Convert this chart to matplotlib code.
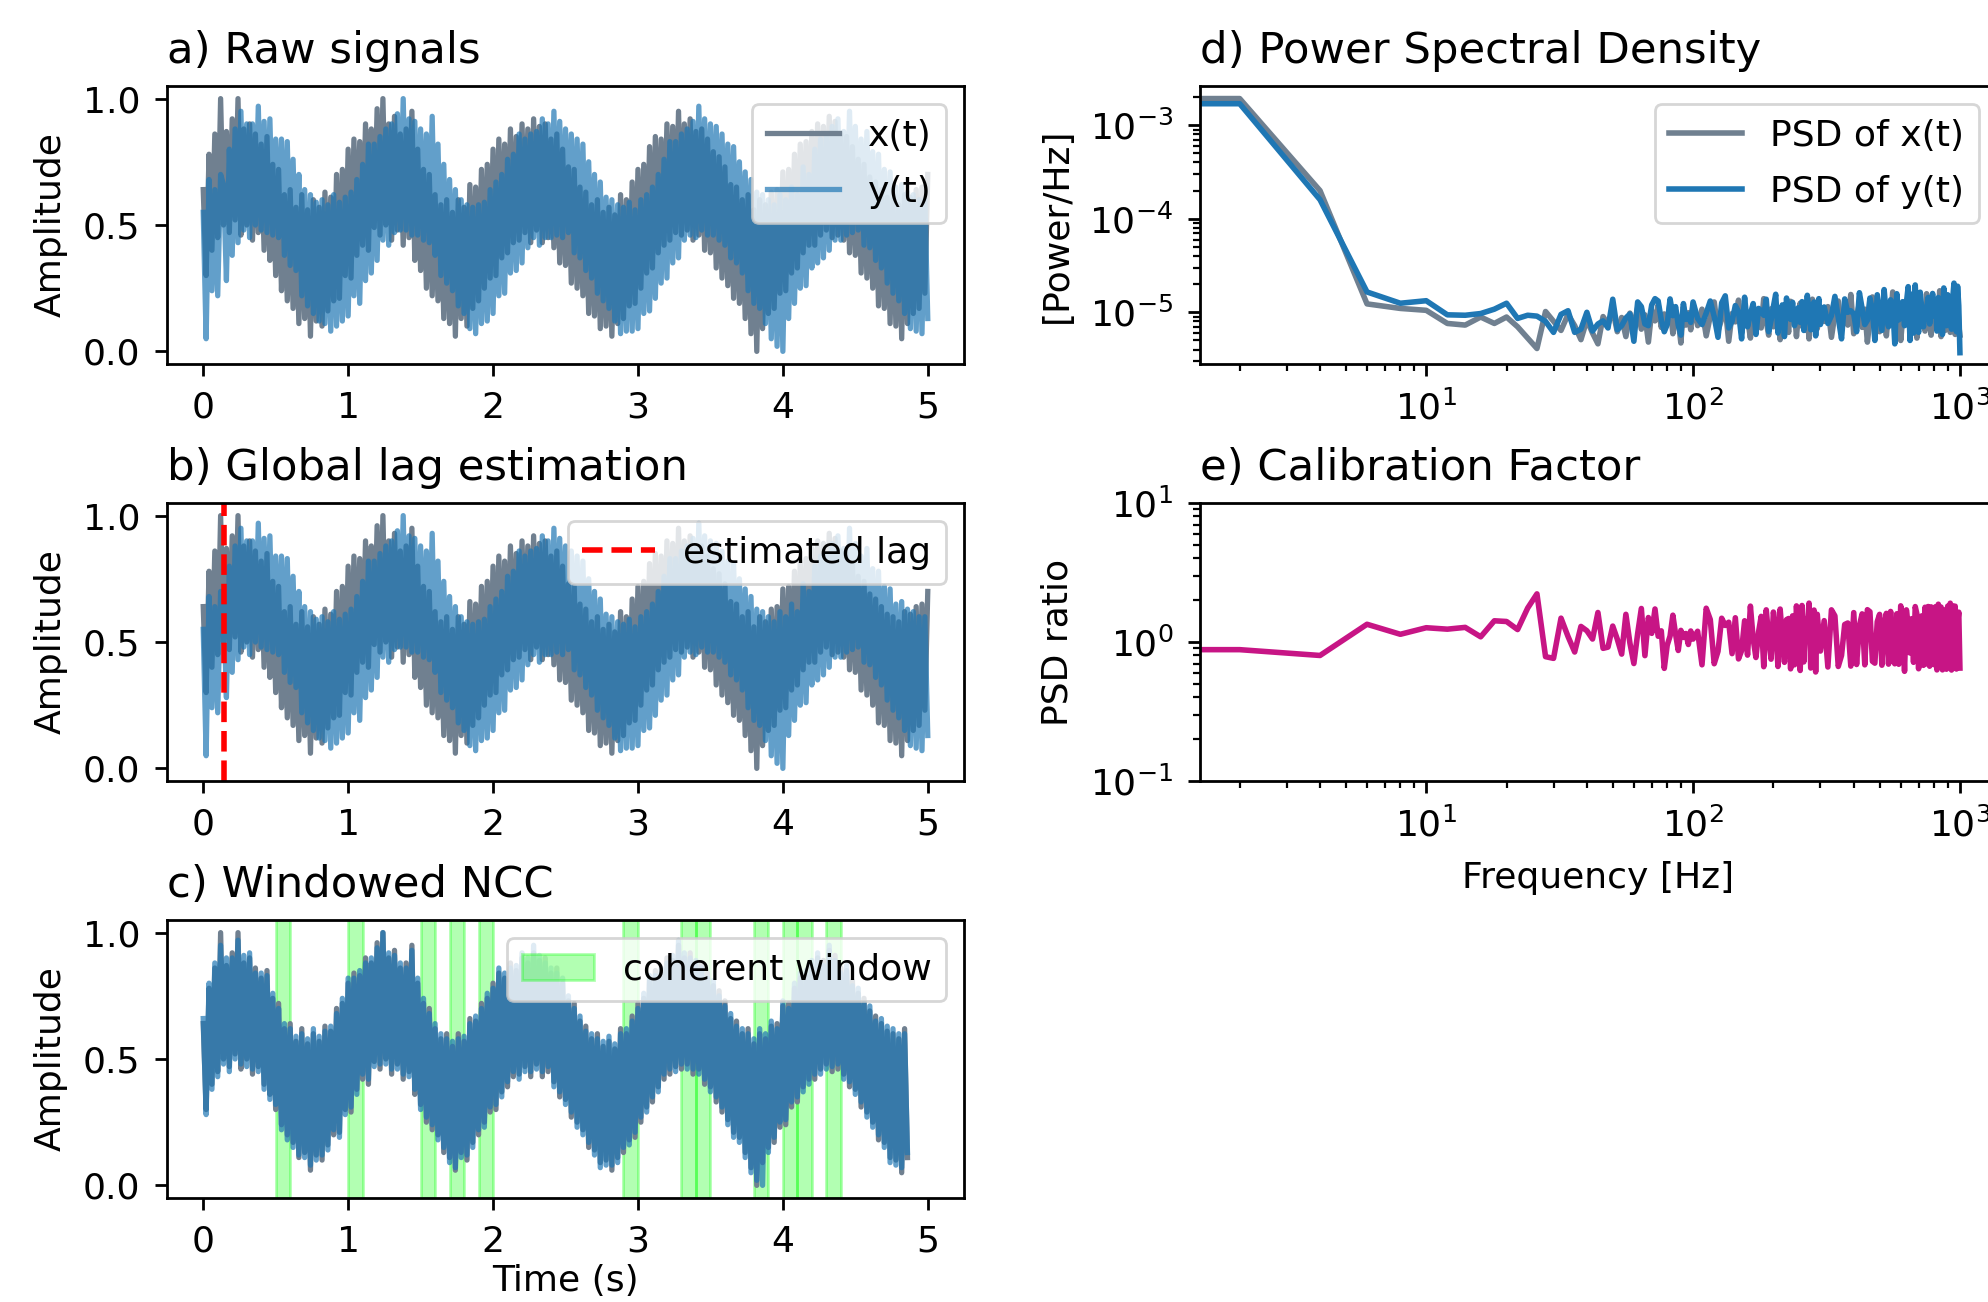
import numpy as np
import matplotlib
matplotlib.use("Agg")
import matplotlib.pyplot as plt

# ---------------- data ----------------
# time signals, sampled every 0.02 s from 0 to 5 s
x_sig = [
    0.64, 0.30, 0.78, 0.40, 0.86,
    0.45, 1.00, 0.50, 0.87, 0.47,
    0.92, 0.52, 1.00, 0.46, 0.88,
    0.50, 0.90, 0.44, 0.86, 0.47,
    0.82, 0.40, 0.85, 0.36, 0.74,
    0.30, 0.72, 0.24, 0.62, 0.20,
    0.64, 0.17, 0.57, 0.11, 0.62,
    0.13, 0.56, 0.06, 0.60, 0.12,
    0.57, 0.10, 0.63, 0.16, 0.61,
    0.20, 0.70, 0.21, 0.72, 0.30,
    0.80, 0.29, 0.84, 0.38, 0.83,
    0.42, 0.90, 0.40, 0.88, 0.49,
    0.96, 0.46, 1.00, 0.50, 0.90,
    0.44, 0.93, 0.48, 0.86, 0.42,
    0.88, 0.45, 0.95, 0.36, 0.80,
    0.32, 0.72, 0.25, 0.70, 0.22,
    0.62, 0.20, 0.58, 0.13, 0.60,
    0.11, 0.55, 0.06, 0.60, 0.13,
    0.57, 0.10, 0.66, 0.17, 0.65,
    0.20, 0.72, 0.25, 0.74, 0.29,
    0.80, 0.30, 0.84, 0.37, 0.82,
    0.39, 0.88, 0.43, 0.85, 0.44,
    0.90, 0.47, 0.88, 0.43, 0.92,
    0.48, 0.89, 0.43, 0.90, 0.45,
    0.84, 0.41, 0.86, 0.35, 0.80,
    0.34, 0.73, 0.27, 0.72, 0.25,
    0.65, 0.22, 0.63, 0.15, 0.58,
    0.14, 0.60, 0.09, 0.55, 0.10,
    0.57, 0.06, 0.54, 0.11, 0.62,
    0.13, 0.60, 0.18, 0.67, 0.19,
    0.72, 0.25, 0.74, 0.31, 0.81,
    0.33, 0.85, 0.39, 0.84, 0.42,
    0.90, 0.44, 0.89, 0.47, 0.95,
    0.46, 0.90, 0.48, 0.92, 0.44,
    0.87, 0.46, 0.88, 0.40, 0.84,
    0.39, 0.79, 0.33, 0.77, 0.29,
    0.73, 0.26, 0.66, 0.21, 0.65,
    0.19, 0.60, 0.13, 0.62, 0.07,
    0.56, 0.00, 0.60, 0.09, 0.58,
    0.15, 0.63, 0.17, 0.64, 0.23,
    0.71, 0.24, 0.72, 0.31, 0.78,
    0.33, 0.82, 0.39, 0.83, 0.42,
    0.87, 0.42, 0.90, 0.46, 0.89,
    0.48, 0.93, 0.45, 0.91, 0.46,
    0.86, 0.44, 0.85, 0.39, 0.81,
    0.38, 0.76, 0.31, 0.74, 0.29,
    0.69, 0.25, 0.67, 0.18, 0.64,
    0.17, 0.61, 0.11, 0.60, 0.10,
    0.58, 0.05, 0.62, 0.11, 0.61,
    0.15, 0.64, 0.17, 0.65, 0.23,
    0.70,
]
y_sig = [
    0.55, 0.05, 0.68, 0.24, 0.64, 0.22, 0.70,
    0.66, 0.28, 0.80, 0.38, 0.88,
    0.43, 0.95, 0.48, 0.90, 0.45,
    0.90, 0.50, 0.97, 0.48, 0.91,
    0.47, 0.92, 0.46, 0.84, 0.45,
    0.84, 0.38, 0.83, 0.34, 0.76,
    0.32, 0.70, 0.22, 0.64, 0.18,
    0.62, 0.15, 0.59, 0.12, 0.60,
    0.11, 0.58, 0.08, 0.62, 0.10,
    0.59, 0.12, 0.61, 0.14, 0.63,
    0.22, 0.68, 0.19, 0.74, 0.28,
    0.82, 0.31, 0.82, 0.36, 0.85,
    0.44, 0.88, 0.42, 0.90, 0.47,
    0.94, 0.48, 1.00, 0.48, 0.92,
    0.46, 0.91, 0.46, 0.88, 0.44,
    0.86, 0.43, 0.93, 0.38, 0.82,
    0.30, 0.74, 0.27, 0.68, 0.24,
    0.64, 0.18, 0.60, 0.15, 0.58,
    0.09, 0.57, 0.07, 0.58, 0.11,
    0.59, 0.12, 0.64, 0.15, 0.67,
    0.22, 0.70, 0.23, 0.76, 0.31,
    0.78, 0.32, 0.86, 0.35, 0.84,
    0.41, 0.86, 0.45, 0.87, 0.42,
    0.92, 0.45, 0.90, 0.45, 0.95,
    0.46, 0.91, 0.45, 0.88, 0.47,
    0.86, 0.39, 0.84, 0.37, 0.82,
    0.32, 0.75, 0.29, 0.70, 0.23,
    0.67, 0.20, 0.61, 0.17, 0.60,
    0.12, 0.58, 0.07, 0.57, 0.08,
    0.59, 0.08, 0.56, 0.09, 0.60,
    0.15, 0.62, 0.16, 0.65, 0.21,
    0.70, 0.27, 0.76, 0.29, 0.83,
    0.35, 0.83, 0.37, 0.86, 0.44,
    0.88, 0.46, 0.91, 0.45, 0.97,
    0.48, 0.92, 0.46, 0.90, 0.46,
    0.89, 0.44, 0.86, 0.42, 0.82,
    0.37, 0.81, 0.35, 0.75, 0.31,
    0.71, 0.24, 0.68, 0.19, 0.63,
    0.17, 0.62, 0.11, 0.60, 0.05,
    0.58, 0.02, 0.62, 0.00, 0.60,
    0.13, 0.65, 0.19, 0.62, 0.25,
    0.73, 0.26, 0.70, 0.33, 0.80,
    0.35, 0.84, 0.37, 0.85, 0.40,
    0.89, 0.44, 0.92, 0.44, 0.87,
    0.46, 0.95, 0.47, 0.89, 0.48,
    0.84, 0.42, 0.87, 0.41, 0.79,
    0.36, 0.78, 0.33, 0.72, 0.27,
    0.71, 0.23, 0.65, 0.20, 0.66,
    0.15, 0.63, 0.09, 0.62, 0.08,
    0.60, 0.07, 0.60, 0.13,
]
sample_rate = 50          # samples per second of the series above
lag_seconds = 0.14        # estimated lag
lag_samples = 7
window_starts = [0.5, 1.0, 1.5, 1.7, 1.9, 2.9, 3.3, 3.4, 3.8, 4.0, 4.1, 4.3]
window_length = 0.1

# spectra (Power/Hz, in units of 1e-6) at frequencies 0..100 step 2, 104..300 step 4, 310..1000 step 10
freq = np.concatenate([np.arange(0, 101, 2), np.arange(104, 301, 4), np.arange(310, 1001, 10)])
psd_x_e6 = [
    900, 1930, 200, 12.3, 11.0, 10.5, 7.6, 7.3, 8.9, 7.6, 8.9, 7.0, 5.3, 4.1,
    10.2, 8.0, 6.4, 9.5, 7.2, 5.1, 8.3, 6.0, 4.6, 9.0,
    7.4, 10.6, 6.2, 8.8, 5.5, 9.8, 7.0, 11.2, 6.6, 9.4,
    4.8, 10.4, 8.1, 12.0, 6.9, 9.6, 7.8, 12.6, 5.9, 10.1,
    8.4, 4.7, 11.5, 7.3, 9.9, 6.5, 12.3,
    7.2, 10.8, 5.6, 9.1, 12.9, 6.3, 8.5, 11.4, 4.9, 9.7,
    7.9, 13.5, 6.0, 10.2, 8.7, 5.3, 11.8, 7.5, 9.3, 6.8,
    14.0, 8.1, 5.7, 10.9, 7.0, 12.2, 9.0, 5.1, 11.1, 7.7,
    9.8, 6.1, 13.1, 8.3, 10.5, 5.5, 9.4, 12.5, 7.1, 8.9,
    6.4, 11.6, 5.2, 10.0, 13.8, 7.6, 9.2, 6.7, 12.0, 8.6,
    8.0, 11.5, 5.4, 9.6, 13.2, 6.5, 10.4, 7.3, 15.5, 5.9,
    9.0, 12.4, 6.9, 10.8, 4.8, 8.6, 14.6, 7.1, 11.0, 6.2,
    9.4, 13.0, 5.6, 10.1, 8.2, 16.5, 6.6, 9.9, 12.0, 5.0,
    8.8, 11.7, 7.4, 14.2, 6.0, 10.6, 8.4, 10.9, 5.3, 9.5,
    12.8, 7.0, 10.3, 6.3, 15.8, 8.0, 11.2, 5.7, 9.8, 13.4,
    6.8, 10.0, 7.7, 17.0, 5.5, 9.2, 12.6, 6.4, 11.3, 8.5,
    14.8, 6.1, 10.5, 7.8, 12.2, 5.8, 9.7, 13.9, 7.2, 5.7,
]
psd_y_e6 = [
    810, 1700, 160, 16.5, 12.5, 13.3, 9.4, 9.3, 9.7, 10.8, 12.5, 8.6, 9.3, 9.1,
    8.0, 6.1, 9.5, 10.4, 6.1, 6.6, 10.0, 6.3, 7.5, 8.1,
    6.8, 13.8, 6.5, 7.2, 8.7, 9.6, 4.9, 12.9, 11.5, 7.5,
    7.2, 12.0, 14.0, 13.2, 8.3, 6.2, 7.4, 13.9, 9.2, 11.5,
    7.3, 5.7, 12.4, 8.4, 9.5, 7.8, 12.9,
    8.6, 7.4, 9.8, 13.2, 9.0, 5.4, 12.6, 15.0, 6.8, 8.0,
    11.8, 10.2, 5.2, 14.5, 7.0, 9.6, 12.4, 5.8, 11.0, 10.4,
    9.3, 13.8, 6.2, 8.2, 11.5, 15.6, 6.0, 8.8, 12.0, 5.5,
    14.2, 9.0, 8.4, 12.8, 7.2, 10.0, 11.2, 7.8, 13.0, 6.4,
    9.4, 15.2, 9.9, 6.5, 11.8, 12.9, 5.6, 10.6, 14.0, 7.4,
    11.4, 7.6, 9.2, 14.8, 8.8, 5.2, 13.9, 10.0, 10.4, 9.6,
    6.2, 16.2, 11.0, 7.4, 8.2, 14.2, 10.6, 5.0, 15.4, 9.8,
    6.4, 17.5, 9.0, 7.0, 13.6, 12.2, 4.6, 15.8, 8.3, 9.1,
    13.0, 7.2, 12.6, 18.8, 5.0, 15.6, 6.0, 19.6, 8.4, 6.1,
    16.4, 10.8, 7.0, 11.2, 11.0, 14.4, 7.5, 10.2, 15.9, 9.2,
    12.2, 6.3, 14.4, 11.8, 9.8, 5.8, 18.2, 10.9, 7.2, 15.4,
    10.5, 11.6, 6.6, 14.2, 20.5, 10.5, 6.2, 19.0, 11.8, 3.7,
]

# ---------------- derived series ----------------
x_arr = np.array(x_sig)
y_arr = np.array(y_sig)
t = np.arange(len(x_arr)) / sample_rate
n_al = len(x_arr) - lag_samples
psd_x = np.array(psd_x_e6) * 1e-6
psd_y = np.array(psd_y_e6) * 1e-6
ratio = psd_y / psd_x

# ---------------- style ----------------
plt.rcParams.update({
    "font.family": ["DejaVu Sans"],
    "axes.linewidth": 1.0,
    "xtick.major.size": 4.4, "ytick.major.size": 4.4,
    "xtick.major.width": 1.0, "ytick.major.width": 1.0,
    "xtick.minor.size": 2.5, "ytick.minor.size": 2.5,
    "xtick.minor.width": 0.8, "ytick.minor.width": 0.8,
    "xtick.major.pad": 5.2, "ytick.major.pad": 5.2,
    "xtick.minor.pad": 5.2, "ytick.minor.pad": 5.2,
    "legend.labelspacing": 0.62,
})

W, H, DPI = 1988, 1302, 200
fig = plt.figure(figsize=(W / DPI, H / DPI), dpi=DPI)


def box(l, tp, r, b):
    return [l / W, 1 - b / H, (r - l) / W, (b - tp) / H]


ax_a = fig.add_axes(box(167, 86, 964, 364))
ax_b = fig.add_axes(box(167, 503, 964, 781))
ax_c = fig.add_axes(box(167, 920, 964, 1198))
ax_d = fig.add_axes(box(1200, 86, 1997, 364))
ax_e = fig.add_axes(box(1200, 503, 1997, 781))

TICK = 13
LAB = 13
TIT = 15.6
LEG = 13
TPAD = 8.2
YPAD = 5.5
XPAD = 6
GRAY = "slategray"
BLUE = "tab:blue"
LW = 1.9

# a) raw signals
ax_a.plot(t, x_arr, color=GRAY, lw=LW, label="x(t)")
ax_a.plot(t, y_arr, color=BLUE, alpha=0.7, lw=LW, label="y(t)")
ax_a.set_title("a) Raw signals", loc="left", fontsize=TIT, pad=TPAD)
ax_a.legend(loc="upper right", fontsize=LEG)

# b) global lag
ax_b.plot(t, x_arr, color=GRAY, lw=LW)
ax_b.plot(t, y_arr, color=BLUE, alpha=0.7, lw=LW)
ax_b.axvline(lag_seconds, color="red", ls="--", lw=2, label="estimated lag")
ax_b.set_title("b) Global lag estimation", loc="left", fontsize=TIT, pad=TPAD)
ax_b.legend(loc="upper right", fontsize=LEG)

# c) windowed NCC
ax_c.plot(t[:n_al], x_arr[:n_al], color=GRAY, lw=LW)
ax_c.plot(t[:n_al], y_arr[lag_samples:], color=BLUE, alpha=0.7, lw=LW)
for i, w0 in enumerate(window_starts):
    ax_c.axvspan(w0, w0 + window_length, color="lime", alpha=0.3,
                 label="coherent window" if i == 0 else None)
ax_c.set_title("c) Windowed NCC", loc="left", fontsize=TIT, pad=TPAD)
ax_c.set_xlabel("Time (s)", fontsize=LAB, labelpad=2.0)
ax_c.legend(loc="upper right", fontsize=LEG)

for ax in (ax_a, ax_b, ax_c):
    ax.set_xlim(-0.25, 5.25)
    ax.set_ylim(-0.05, 1.05)
    ax.set_xticks([0, 1, 2, 3, 4, 5])
    ax.set_yticks([0.0, 0.5, 1.0])
    ax.set_ylabel("Amplitude", fontsize=LAB, labelpad=YPAD)
    ax.tick_params(labelsize=TICK)

# d) PSD
ax_d.plot(freq, psd_x, color=GRAY, lw=2, label="PSD of x(t)")
ax_d.plot(freq, psd_y, color=BLUE, lw=2, label="PSD of y(t)")
ax_d.set_xscale("log")
ax_d.set_yscale("log")
ax_d.set_ylim(2.8e-6, 2.63e-3)
ax_d.set_title("d) Power Spectral Density", loc="left", fontsize=TIT, pad=TPAD)
ax_d.set_ylabel("[Power/Hz]", fontsize=LAB, labelpad=YPAD)
ax_d.legend(loc="upper right", fontsize=LEG)

# e) calibration factor
ax_e.plot(freq, ratio, color="mediumvioletred", lw=2)
ax_e.set_xscale("log")
ax_e.set_yscale("log")
ax_e.set_ylim(0.1, 10)
ax_e.set_title("e) Calibration Factor", loc="left", fontsize=TIT, pad=TPAD)
ax_e.set_ylabel("PSD ratio", fontsize=LAB, labelpad=YPAD)
ax_e.set_xlabel("Frequency [Hz]", fontsize=LAB, labelpad=XPAD)

for ax in (ax_d, ax_e):
    ax.set_xlim(1.42, 1377)
    ax.tick_params(labelsize=TICK)

fig.savefig("out.png", dpi=DPI)
